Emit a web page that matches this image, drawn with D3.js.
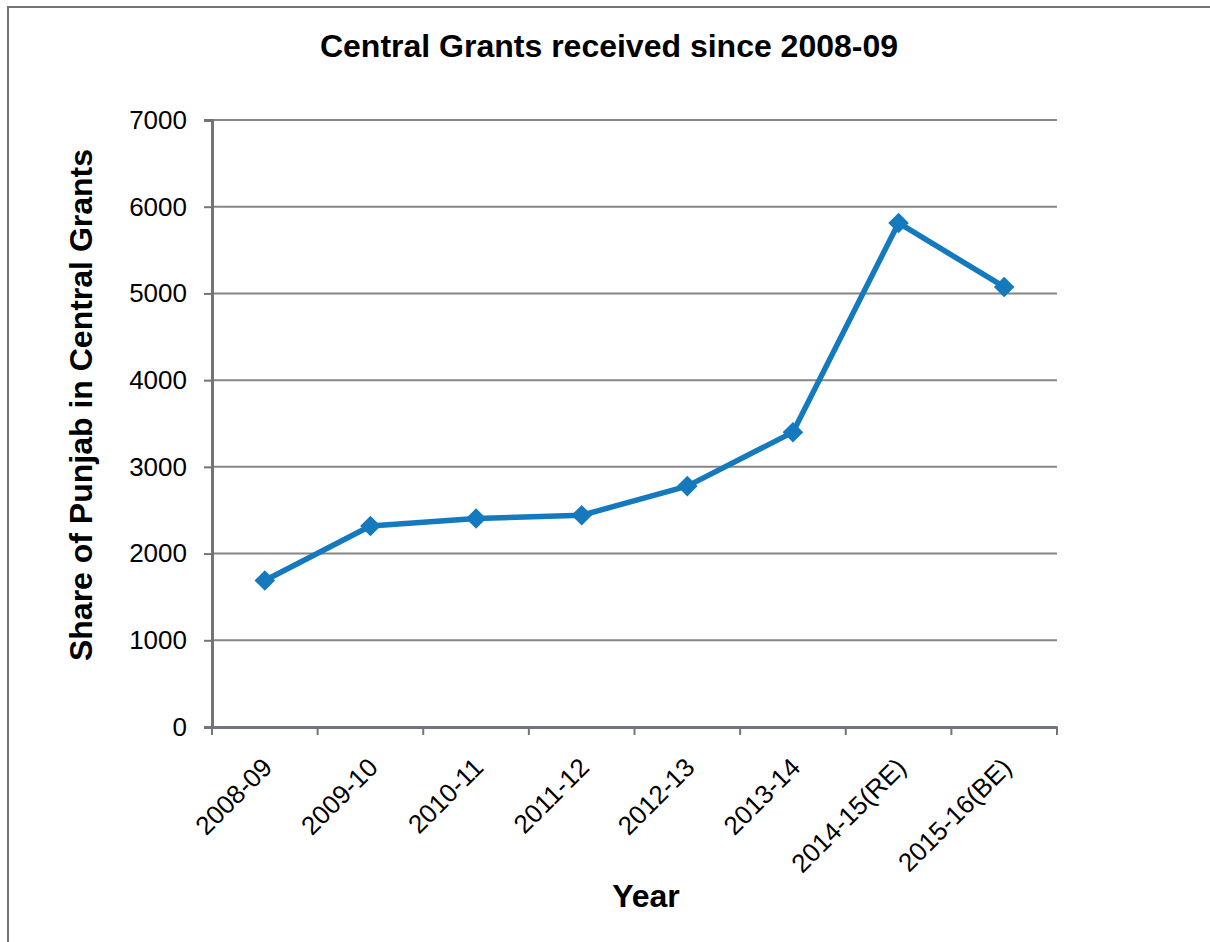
<!DOCTYPE html>
<html><head><meta charset="utf-8">
<script src="https://cdn.jsdelivr.net/npm/d3@7"></script>
<style>body{margin:0;background:#fff}svg{display:block;font-family:"Liberation Sans",Arial,sans-serif}</style>
</head><body><svg id="c" width="1210" height="942"></svg>
<script>
const categories = ["2008-09","2009-10","2010-11","2011-12","2012-13","2013-14","2014-15(RE)","2015-16(BE)"];
const values = [1690, 2318, 2404, 2442, 2778, 3400, 5813, 5075];
const yTicks = [0,1000,2000,3000,4000,5000,6000,7000];
const title = "Central Grants received since 2008-09";
const xTitle = "Year";
const yTitle = "Share of Punjab in Central Grants";

const svg = d3.select("#c");
const L = 212, R = 1057, T = 120, B = 727;
svg.append("rect").attr("x",8).attr("y",7).attr("width",1230).attr("height",960)
  .attr("fill","none").attr("stroke","#70757a").attr("stroke-width",2);

const x = d3.scaleBand().domain(categories).range([L,R]).padding(0);
const y = d3.scaleLinear().domain([0,7000]).range([B,T]);

// gridlines
svg.append("g").selectAll("line").data(yTicks.filter(d=>d>0)).join("line")
  .attr("x1",L).attr("x2",R).attr("y1",d=>y(d)).attr("y2",d=>y(d))
  .attr("stroke","#868686").attr("stroke-width",2);

// y axis
const ya = svg.append("g").attr("transform",`translate(${L},0)`)
  .call(d3.axisLeft(y).tickValues(yTicks).tickSize(8).tickPadding(17).tickFormat(d3.format("d")));
ya.select(".domain").attr("stroke","#70757a").attr("stroke-width",3);
ya.selectAll(".tick line").attr("stroke","#70757a").attr("stroke-width",2);
ya.selectAll("text").attr("font-size",26).attr("fill","#000").attr("font-family","Liberation Sans, Arial, sans-serif");

// x axis
const xa = svg.append("g").attr("transform",`translate(0,${B})`)
  .call(d3.axisBottom(x).tickSize(0).tickFormat(""));
xa.select(".domain").attr("stroke","#70757a").attr("stroke-width",3);
const bounds = categories.map(c=>x(c)).concat([R]);
svg.append("g").selectAll("line").data(bounds).join("line")
  .attr("x1",d=>d).attr("x2",d=>d).attr("y1",B).attr("y2",B+8)
  .attr("stroke","#70757a").attr("stroke-width",2);
svg.append("g").selectAll("text").data(categories).join("text")
  .attr("transform",d=>`translate(${x(d)+x.bandwidth()/2+9},${B+42}) rotate(-45)`)
  .attr("text-anchor","end").attr("font-size",26).attr("fill","#000").text(d=>d);

// line
const cx = d=>x(d)+x.bandwidth()/2;
svg.append("path").datum(values)
  .attr("d",d3.line().x((d,i)=>cx(categories[i])).y(d=>y(d)))
  .attr("fill","none").attr("stroke","#1479bd").attr("stroke-width",5.5).attr("stroke-linejoin","round");
svg.append("g").selectAll("path").data(values).join("path")
  .attr("d",d3.symbol().type(d3.symbolDiamond2).size(270))
  .attr("transform",(d,i)=>`translate(${cx(categories[i])},${y(d)})`)
  .attr("fill","#1479bd");

// titles
svg.append("text").attr("x",609).attr("y",57).attr("text-anchor","middle")
  .attr("font-size",32).attr("font-weight","bold").text(title);
svg.append("text").attr("x",646).attr("y",907).attr("text-anchor","middle")
  .attr("font-size",32).attr("font-weight","bold").text(xTitle);
svg.append("text").attr("transform","translate(92,405) rotate(-90)").attr("text-anchor","middle")
  .attr("font-size",32).attr("font-weight","bold").text(yTitle);
</script></body></html>
